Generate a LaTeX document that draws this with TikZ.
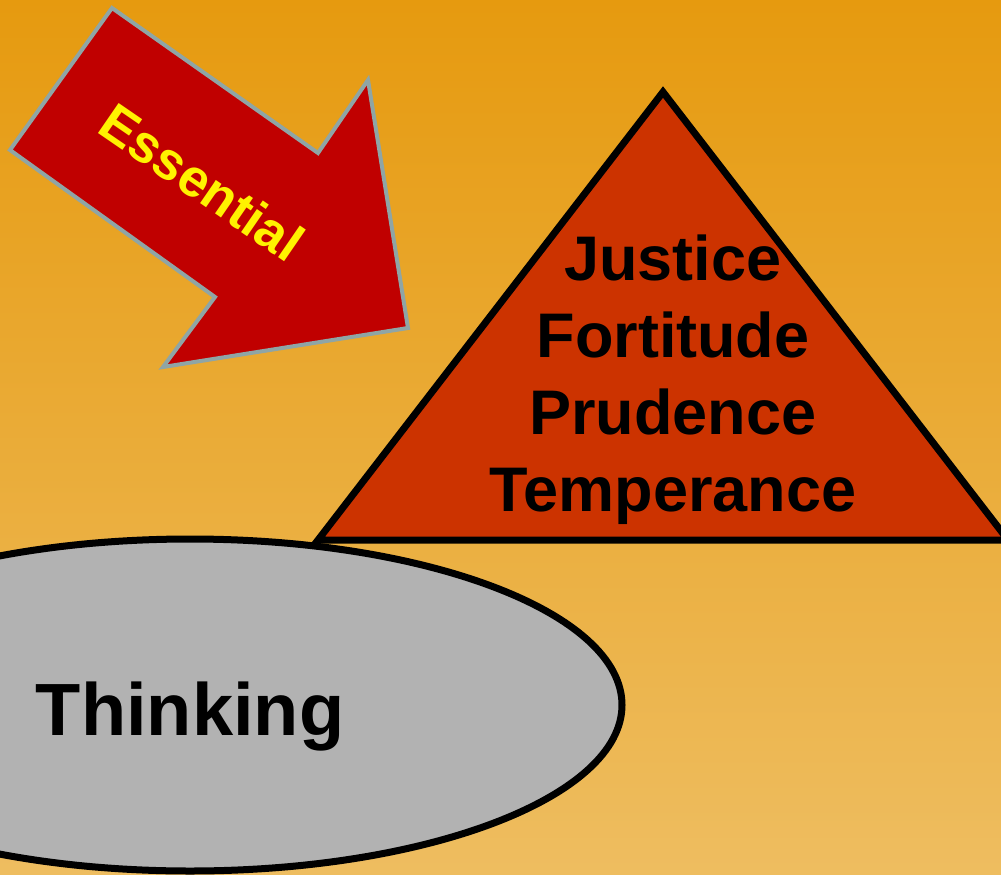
\documentclass[tikz,border=0pt]{standalone}
\usepackage{fontspec}
\setmainfont{Liberation Sans}
\usetikzlibrary{shapes.geometric}
\definecolor{bgtop}{HTML}{E69A0F}
\definecolor{bgbot}{HTML}{EEBD60}
\definecolor{arrowred}{HTML}{C00000}
\definecolor{arrowedge}{HTML}{8FA5A5}
\definecolor{virtuered}{HTML}{CC3300}
\definecolor{thinkgray}{HTML}{B2B2B2}
\begin{document}
\begin{tikzpicture}[x=1pt, y=-1pt, line join=miter,
	essential/.style={text=yellow, inner sep=0, font=\fontsize{53}{60}\selectfont\bfseries},
	virtues/.style={align=center, inner sep=0, font=\fontsize{63}{77}\selectfont\bfseries},
	thinktext/.style={inner sep=0, font=\fontsize{74}{80}\selectfont\bfseries}]
	\shade[top color=bgtop, bottom color=bgbot] (0,0) rectangle (1001,875);
	\useasboundingbox (0,0) rectangle (1001,875);
	% arrow
	\draw[fill=arrowred, draw=arrowedge, line width=4pt] (112,8) -- (318,153) -- (368,80) -- (408,328) -- (163,367) -- (215,297) -- (10,150) -- cycle;
	\node[essential, rotate=-34.5] (essential) at (202,182) {Essential};
	% triangle
	\coordinate (apex) at (663,92);
	\coordinate (baseL) at (318,540);
	\coordinate (baseR) at (1008,540);
	\draw[fill=virtuered, line width=7pt] (baseL) -- (apex) -- (baseR) -- cycle;
	\node[virtues] (virtues) at (673,380) {Justice\\Fortitude\\Prudence\\Temperance};
	% ellipse
	\node[ellipse, draw, fill=thinkgray, line width=7pt, minimum width=864pt, minimum height=332pt, inner sep=0] (thinking) at (190,705) {};
	\node[thinktext, anchor=base] (thinklabel) at (190,735) {Thinking};
\end{tikzpicture}
\end{document}
